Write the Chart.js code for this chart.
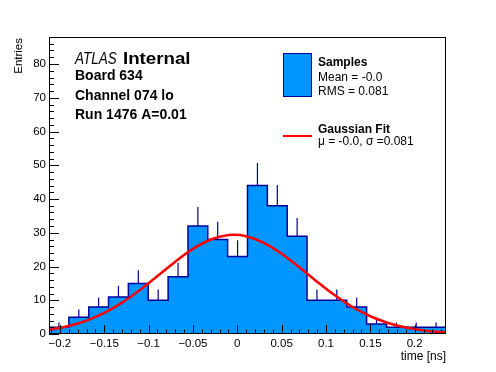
<!DOCTYPE html>
<html>
<head>
<meta charset="utf-8">
<script src="https://cdn.jsdelivr.net/npm/chart.js@4.4.1/dist/chart.umd.min.js"></script>
<style>
body { margin: 0; background: #fff; }
#wrap { width: 496px; height: 372px; }
</style>
</head>
<body>
<div id="wrap"><canvas id="myChart" width="496" height="372"></canvas></div>
<script>
// histogram bin edges, time [ns]
var binEdges = [-0.2123, -0.1899, -0.1675, -0.1452, -0.1228, -0.1004, -0.0780, -0.0556, -0.0333, -0.0109,
    0.0115, 0.0339, 0.0563, 0.0786, 0.1010, 0.1234, 0.1458, 0.1682, 0.1905, 0.2129, 0.2353];
// entries per bin
var counts = [2, 5, 8, 11, 15, 10, 17, 32, 28, 23, 44, 38, 29, 10, 10, 8, 3, 2, 2, 2];
// upper error bar length per bin
var errors = [1.41, 2.24, 2.83, 3.32, 3.87, 3.16, 4.12, 5.66, 5.29, 4.80, 6.63, 6.16, 5.39, 3.16, 3.16, 2.83, 1.73, 1.41, 1.41, 1.41];

// gaussian fit curve
var fitX = [-0.2123, -0.19, -0.17, -0.15, -0.13, -0.11, -0.09, -0.07, -0.05, -0.03, -0.01, -0.004,
    0.01, 0.03, 0.05, 0.07, 0.09, 0.11, 0.13, 0.15, 0.17, 0.19, 0.21, 0.2353];
var fitY = [1.26, 2.39, 3.98, 6.26, 9.29, 13.0, 17.19, 21.43, 25.21, 27.99, 29.32, 29.4,
    28.98, 27.03, 23.79, 19.76, 15.48, 11.45, 7.99, 5.26, 3.27, 1.91, 1.06, 0.46];

var xTicks = [-0.2, -0.15, -0.1, -0.05, 0, 0.05, 0.1, 0.15, 0.2];
var xTickLabels = ['\u22120.2', '\u22120.15', '\u22120.1', '\u22120.05', '0', '0.05', '0.1', '0.15', '0.2'];
var yTicks = [0, 10, 20, 30, 40, 50, 60, 70, 80];
var yTickLabels = ['0', '10', '20', '30', '40', '50', '60', '70', '80'];

var FILL = '#0096ff';
var LINE = '#000099';
var FONT = "'Liberation Sans', Arial, Helvetica, sans-serif";

// histogram as a stepped line
var histData = [];
for (var i = 0; i < counts.length; i++) histData.push({x: binEdges[i], y: counts[i]});
histData.push({x: binEdges[binEdges.length - 1], y: counts[counts.length - 1]});

// error bars: segments separated by gaps
var errData = [];
for (var i = 0; i < counts.length; i++) {
    var c = (binEdges[i] + binEdges[i + 1]) / 2;
    errData.push({x: c, y: counts[i]});
    errData.push({x: c, y: counts[i] + errors[i]});
    errData.push({x: c, y: null});
}

var fitData = fitX.map(function(x, i) { return {x: x, y: fitY[i]}; });

// draw text with a small horizontal stretch
function fitText(ctx, txt, x, y, sx) {
    ctx.save();
    ctx.translate(x, y);
    ctx.scale(sx, 1);
    ctx.fillText(txt, 0, 0);
    ctx.restore();
}

var rootFrame = {
    id: 'rootFrame',
    afterDatasetsDraw: function(chart) {
        var ctx = chart.ctx, a = chart.chartArea;
        var xs = chart.scales.x, ys = chart.scales.y;
        ctx.save();
        ctx.strokeStyle = '#000';
        ctx.lineWidth = 1;
        ctx.beginPath();
        // x ticks, inside the frame
        for (var k = -21; k <= 23; k++) {
            var px = Math.round(xs.getPixelForValue(k / 100)) + 0.5;
            var len = (k % 5 === 0) ? 9 : 4.5;
            ctx.moveTo(px, a.bottom);
            ctx.lineTo(px, a.bottom - len);
        }
        // y ticks
        for (var v = 0; v <= 88; v += 2) {
            var py = Math.round(ys.getPixelForValue(v)) + 0.5;
            var len2 = (v % 10 === 0) ? 10 : 5;
            ctx.moveTo(a.left, py);
            ctx.lineTo(a.left + len2, py);
        }
        ctx.stroke();
        ctx.strokeRect(Math.round(a.left) + 0.5, Math.round(a.top) + 0.5,
            Math.round(a.right - a.left) - 1, Math.round(a.bottom - a.top) - 1);
        ctx.restore();
    },
    afterDraw: function(chart) {
        var ctx = chart.ctx;
        ctx.save();
        ctx.fillStyle = '#000';
        ctx.textBaseline = 'alphabetic';

        // axis titles
        ctx.font = '12px ' + FONT;
        ctx.textAlign = 'right';
        ctx.fillText('time [ns]', 446, 359.5);
        ctx.save();
        ctx.translate(22, 38);
        ctx.rotate(-Math.PI / 2);
        ctx.font = '11.5px ' + FONT;
        ctx.textAlign = 'right';
        ctx.fillText('Entries', 0, 0);
        ctx.restore();

        // ATLAS label
        ctx.textAlign = 'left';
        ctx.font = 'italic 16.5px ' + FONT;
        fitText(ctx, 'ATLAS', 75, 63.5, 0.82);
        ctx.font = 'bold 17px ' + FONT;
        fitText(ctx, 'Internal', 123, 63.5, 1.1);
        ctx.font = 'bold 14px ' + FONT;
        ctx.fillText('Board 634', 75, 80);
        ctx.fillText('Channel 074 lo', 75, 99.5);
        ctx.fillText('Run 1476 A=0.01', 75, 118.5);

        // legend
        ctx.fillStyle = FILL;
        ctx.fillRect(283.5, 53.5, 28, 43);
        ctx.strokeStyle = LINE;
        ctx.lineWidth = 1;
        ctx.strokeRect(283.5, 53.5, 28, 43);
        ctx.strokeStyle = '#ff0000';
        ctx.lineWidth = 2;
        ctx.beginPath();
        ctx.moveTo(283, 136);
        ctx.lineTo(312, 136);
        ctx.stroke();

        ctx.fillStyle = '#000';
        ctx.font = 'bold 12px ' + FONT;
        ctx.fillText('Samples', 318, 66);
        ctx.fillText('Gaussian Fit', 318, 133);
        ctx.font = '12px ' + FONT;
        ctx.fillText('Mean = -0.0', 318, 81);
        ctx.fillText('RMS = 0.081', 318, 94.5);
        ctx.fillText('\u03bc = -0.0, \u03c3 =0.081', 318, 145);
        ctx.restore();
    }
};

var ctx = document.getElementById('myChart').getContext('2d');
var chart = new Chart(ctx, {
    type: 'line',
    data: {
        datasets: [{
            label: 'Gaussian Fit',
            data: fitData,
            borderColor: '#ff0000',
            borderWidth: 2.5,
            pointRadius: 0,
            cubicInterpolationMode: 'monotone',
            fill: false,
            order: 0
        }, {
            label: 'errors',
            data: errData,
            borderColor: LINE,
            borderWidth: 1.2,
            pointRadius: 0,
            spanGaps: false,
            fill: false,
            order: 1
        }, {
            label: 'Samples',
            data: histData,
            borderColor: LINE,
            borderWidth: 1.5,
            backgroundColor: FILL,
            pointRadius: 0,
            stepped: 'before',
            fill: 'origin',
            order: 2
        }]
    },
    options: {
        responsive: false,
        animation: false,
        devicePixelRatio: 1,
        layout: { padding: { top: 37, right: 50, left: 0, bottom: 0 } },
        plugins: { legend: { display: false }, tooltip: { enabled: false } },
        scales: {
            x: {
                type: 'linear',
                min: binEdges[0],
                max: binEdges[binEdges.length - 1],
                grid: { display: false, drawTicks: false },
                border: { display: false },
                afterBuildTicks: function(s) { s.ticks = xTicks.map(function(v) { return {value: v}; }); },
                afterFit: function(s) { s.height = 38; },
                ticks: {
                    autoSkip: false,
                    maxRotation: 0,
                    padding: 3,
                    color: '#000',
                    font: { family: FONT, size: 11.5 },
                    callback: function(v, i) { return xTickLabels[i]; }
                }
            },
            y: {
                min: 0,
                max: 88,
                grid: { display: false, drawTicks: false },
                border: { display: false },
                afterBuildTicks: function(s) { s.ticks = yTicks.map(function(v) { return {value: v}; }); },
                afterFit: function(s) { s.width = 49; },
                ticks: {
                    padding: 3,
                    color: '#000',
                    font: { family: FONT, size: 11.5 },
                    callback: function(v, i) { return yTickLabels[i]; }
                }
            }
        }
    },
    plugins: [rootFrame]
});
</script>
</body>
</html>
